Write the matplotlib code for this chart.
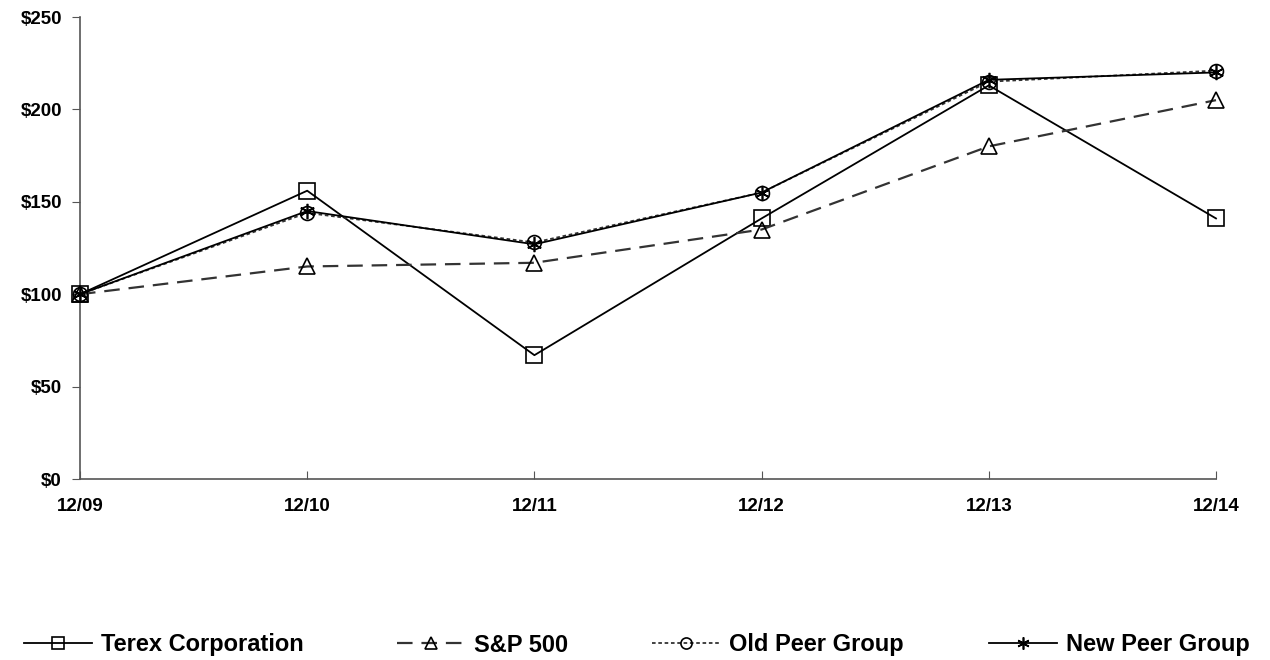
import matplotlib
matplotlib.use("Agg")
import matplotlib.pyplot as plt

plt.rcParams['font.family'] = ['Liberation Sans', 'DejaVu Sans']

categories = ["12/09", "12/10", "12/11", "12/12", "12/13", "12/14"]
terex = [100, 156, 67, 141, 213, 141]
sp500 = [100, 115, 117, 135, 180, 205]
old_peer = [100, 144, 128, 155, 215, 221]
new_peer = [100, 145, 127, 155, 216, 220]
yticks = [0, 50, 100, 150, 200, 250]
ytick_labels = ["$0", "$50", "$100", "$150", "$200", "$250"]
series_names = ["Terex Corporation", "S&P 500", "Old Peer Group", "New Peer Group"]

fig = plt.figure(figsize=(12.7, 6.6), dpi=100)
ax = fig.add_axes([80/1270, 1-479/660, (1216-80)/1270, (479-17)/660])

x = list(range(len(categories)))
lw = 1.3
styles = [
    dict(color='black', ls='-', marker='s', ms=11, lw=lw),
    dict(color='#333333', ls=(0, (7, 4)), marker='^', ms=11, lw=1.6),
    dict(color='#333333', ls=(0, (2, 1.5)), marker='o', ms=10, lw=lw),
    dict(color='black', ls='-', marker=(6, 2, 0), ms=11, lw=lw),
]
data = [terex, sp500, old_peer, new_peer]
handles = []
for vals, st, name in zip(data, styles, series_names):
    h, = ax.plot(x, vals, color=st['color'], linestyle=st['ls'], linewidth=st['lw'],
                 marker=st['marker'], markersize=st['ms'], markerfacecolor='none',
                 markeredgecolor='black', markeredgewidth=1.2, label=name,
                 clip_on=False, zorder=3)
    handles.append(h)

ax.set_xlim(0, 5)
ax.set_ylim(0, 250)
ax.set_yticks(yticks)
ax.set_yticklabels(ytick_labels, fontweight='bold', fontsize=13.5)
ax.set_xticks(x)
ax.set_xticklabels(categories, fontweight='bold', fontsize=13.5)
for s in ['top', 'right']:
    ax.spines[s].set_visible(False)
for s in ['left', 'bottom']:
    ax.spines[s].set_color('#555555')
    ax.spines[s].set_linewidth(1.2)
ax.tick_params(axis='y', direction='out', length=6, color='#555555', pad=7)
ax.tick_params(axis='x', direction='in', length=6, color='#555555', pad=14)

# legend entries placed individually
legend_x = [24, 397, 652, 989]
for h, lx in zip(handles, legend_x):
    fig.legend(handles=[h], loc='center left',
               bbox_to_anchor=(lx/1270, 1-645/660), frameon=False,
               handlelength=2.9, handletextpad=0.35, borderpad=0,
               borderaxespad=0, prop=dict(size=17, weight='bold'),
               markerscale=0.8)

fig.savefig("out.png", dpi=100)
